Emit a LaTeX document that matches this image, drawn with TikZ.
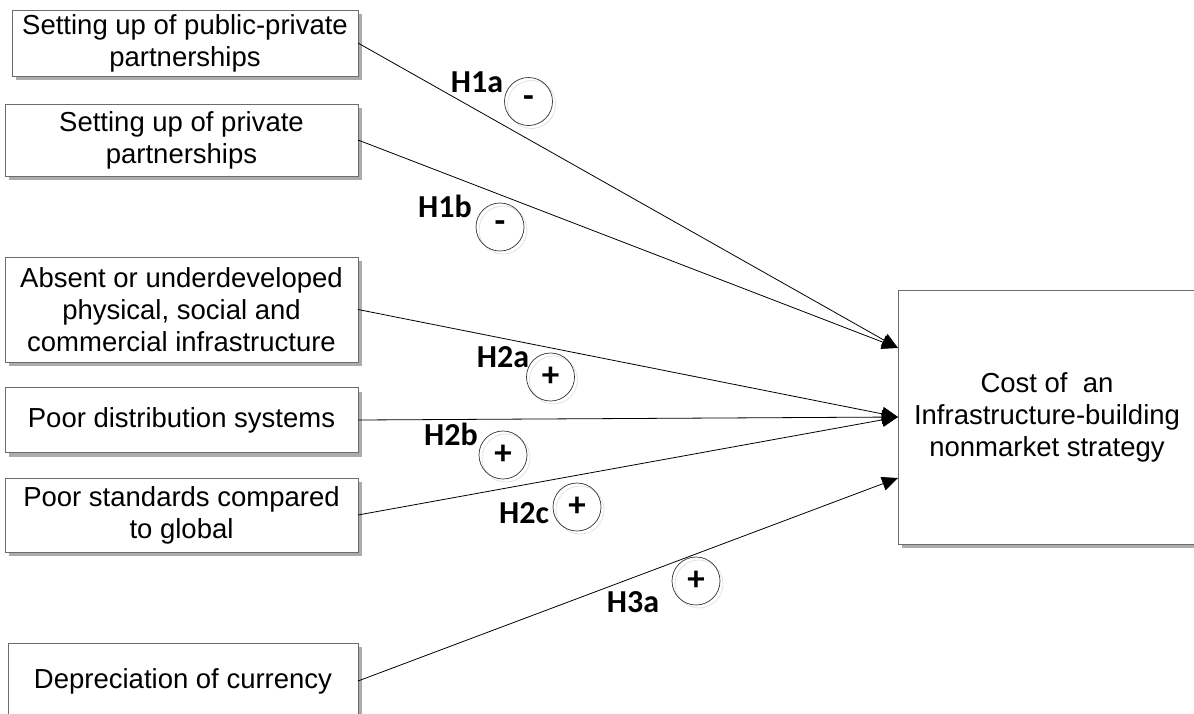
\documentclass[tikz,border=0pt]{standalone}
\usepackage{fontspec}
\setmainfont{Liberation Sans}
\newfontfamily\hypfont{Carlito}
\usetikzlibrary{arrows.meta,shadows}
\begin{document}
\begin{tikzpicture}[x=1pt,y=-1pt,
  factor/.style={draw=gray!85!black, fill=white, line width=0.8pt, align=center,
    inner sep=0pt, outer sep=0pt, font=\fontsize{27.5}{32}\selectfont,
    drop shadow={shadow xshift=4pt, shadow yshift=-4pt, fill=gray!65, opacity=1}},
  link/.style={line width=0.8pt, -{Triangle[length=16pt,width=14pt]}},
  hyp/.style={font=\hypfont\bfseries\fontsize{32}{32}\selectfont, anchor=base, inner sep=0pt},
  sign/.style={circle, draw=black!80, line width=0.7pt, minimum size=48pt, inner sep=0pt,
    font=\hypfont\bfseries\fontsize{35}{35}\selectfont,
    general shadow={shadow xshift=3pt, shadow yshift=-3pt, draw=gray!25, fill=none}}
]
\useasboundingbox (0,0) rectangle (1194,713);

% antecedent factors
\node[factor, minimum width=346pt, minimum height=66pt] (b1) at (185,43)
  {Setting up of public-private\\partnerships};
\node[factor, minimum width=353pt, minimum height=72pt] (b2) at (181.5,140)
  {Setting up of private\\partnerships};
\node[factor, minimum width=353pt, minimum height=105pt] (b3) at (181.5,309.5)
  {Absent or underdeveloped\\physical, social and\\commercial infrastructure};
\node[factor, minimum width=353pt, minimum height=65pt] (b4) at (181.5,420)
  {Poor distribution systems};
\node[factor, minimum width=353pt, minimum height=74pt] (b5) at (181.5,515)
  {Poor standards compared\\to global};
\node[factor, minimum width=350pt, minimum height=76pt] (b6) at (183,681)
  {Depreciation of currency};

% outcome
\node[factor, minimum width=298pt, minimum height=254pt] (tgt) at (1047,417)
  {Cost of\ \ an\\Infrastructure-building\\nonmarket strategy};

\coordinate (t1) at ([yshift=69pt]tgt.west);
\coordinate (t2) at (tgt.west);
\coordinate (t3) at ([yshift=-61pt]tgt.west);

% hypothesised paths
\draw[link] (b1.east) -- (t1);
\draw[link] (b2.east) -- (t1);
\draw[link] (b3.east) -- (t2);
\draw[link] (b4.east) -- (t2);
\draw[link] (b5.east) -- (t2);
\draw[link] (b6.east) -- (t3);

% hypothesis labels and signs
\node[hyp] (h1a) at (477,92) {H1a};
\node[sign] (s1a) at (528.5,101.5) {-};
\node[hyp] (h1b) at (445,217) {H1b};
\node[sign] (s1b) at (500,227) {-};
\node[hyp] (h2a) at (503,367) {H2a};
\node[sign] (s2a) at (550.5,377) {+};
\node[hyp] (h2b) at (451,445) {H2b};
\node[sign] (s2b) at (503,455) {+};
\node[hyp] (h2c) at (524,523) {H2c};
\node[sign] (s2c) at (577,507) {+};
\node[hyp] (h3a) at (633,612) {H3a};
\node[sign] (s3a) at (696,581) {+};
\end{tikzpicture}
\end{document}
